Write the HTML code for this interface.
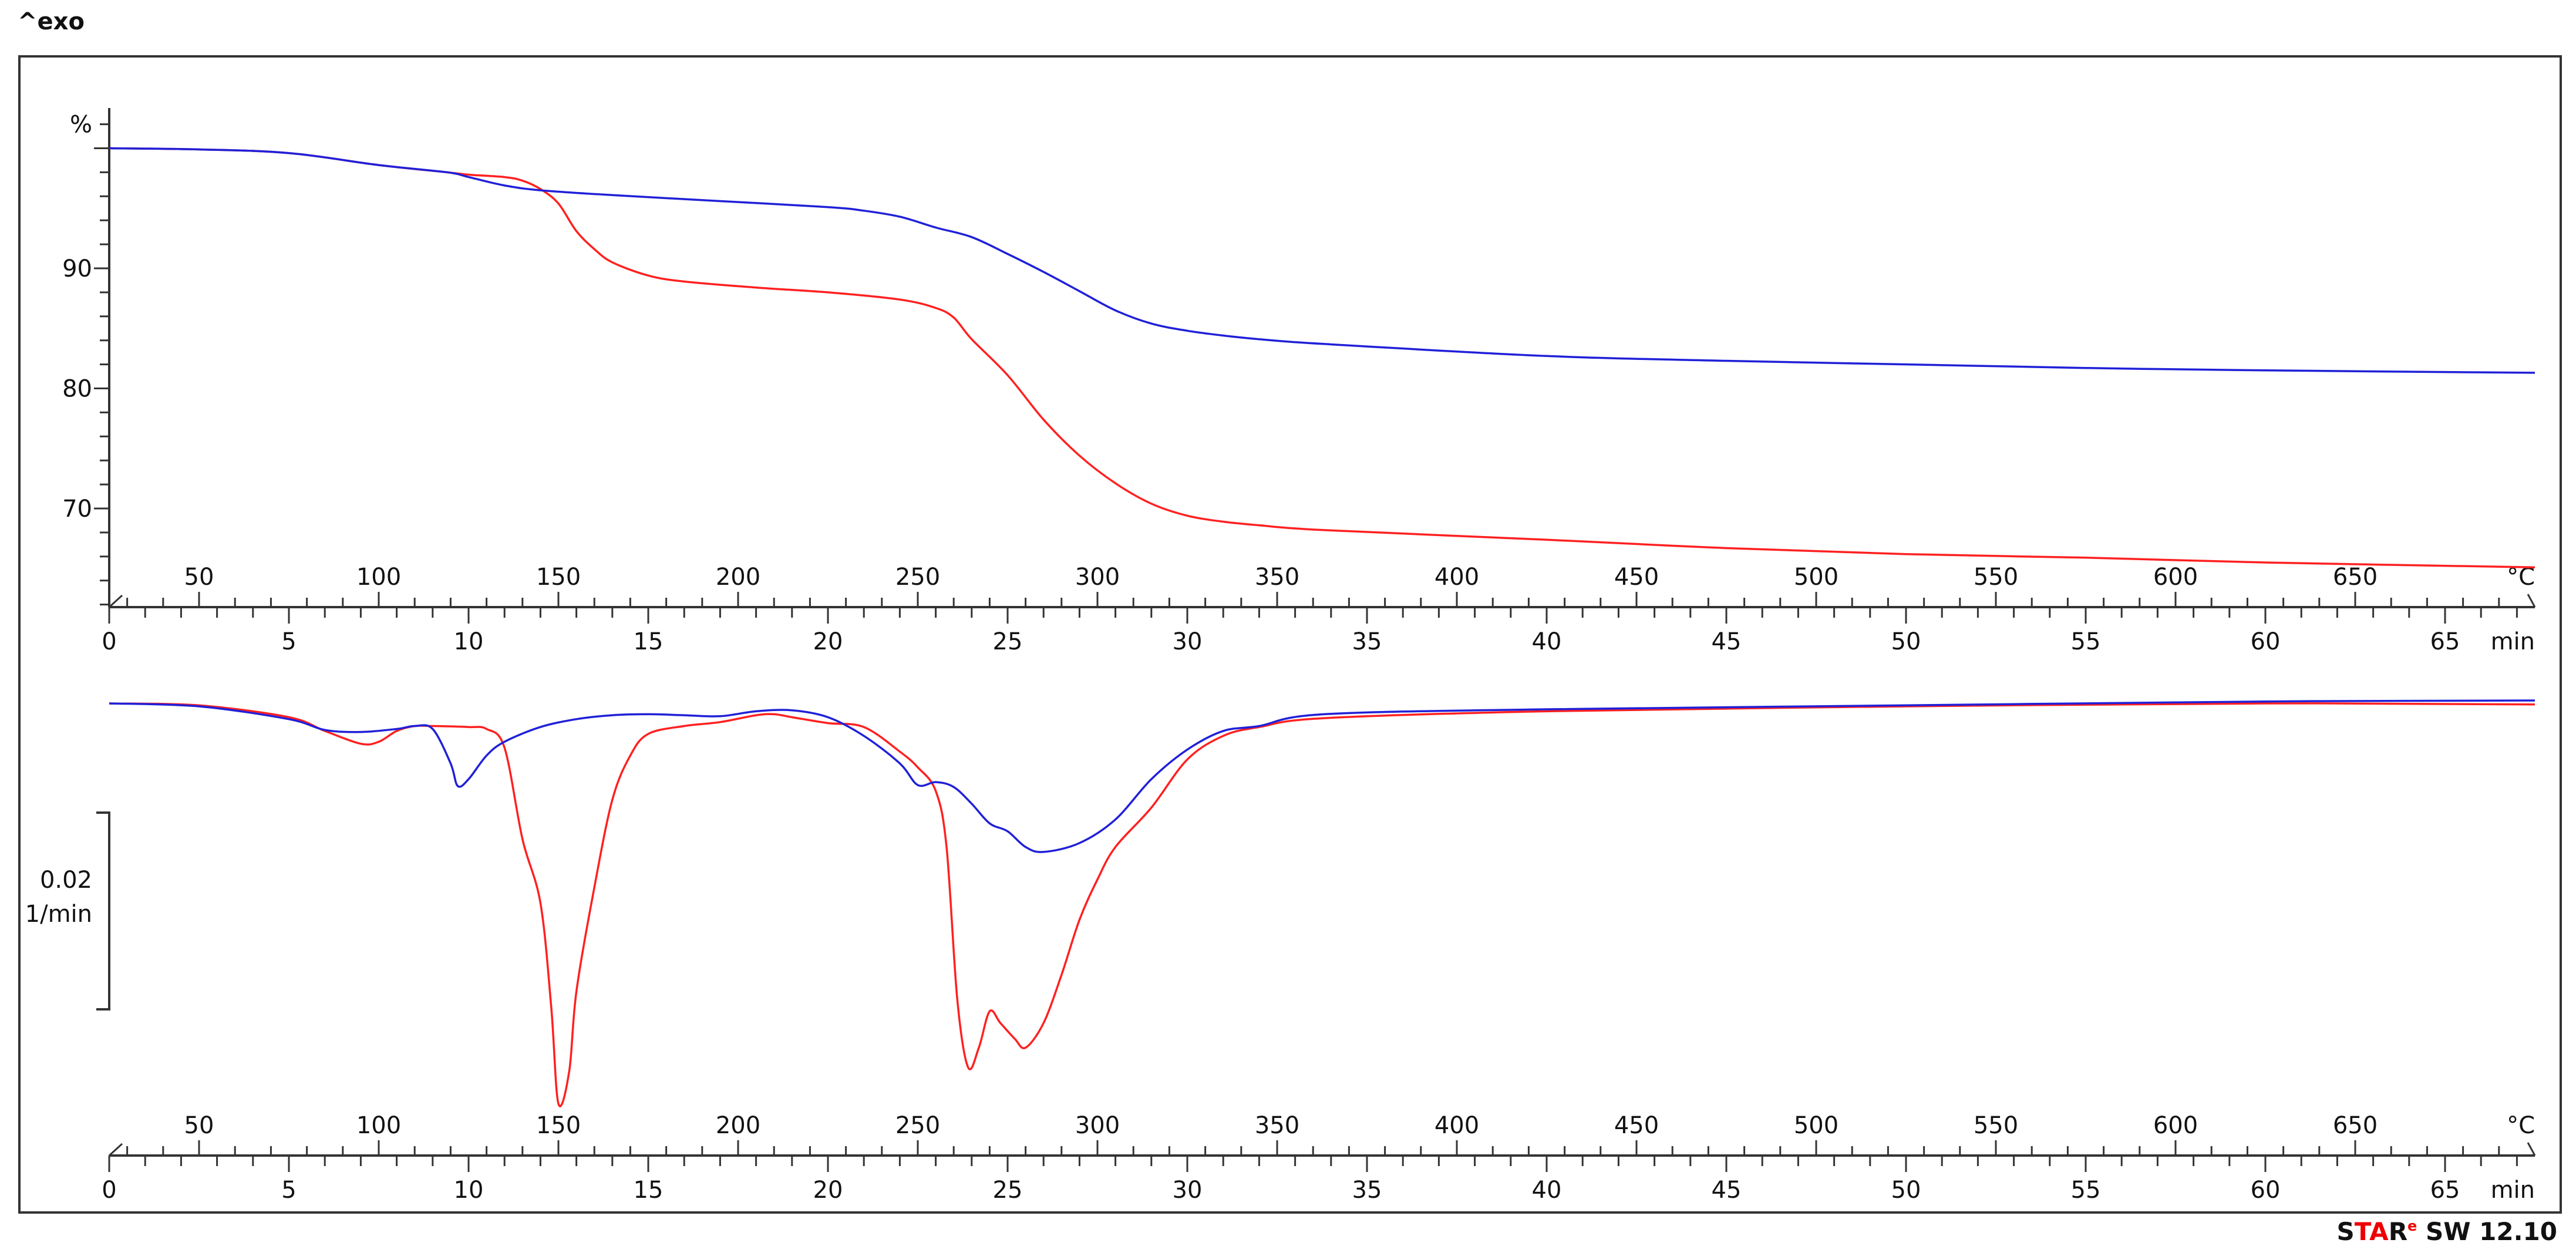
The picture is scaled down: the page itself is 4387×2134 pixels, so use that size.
<!DOCTYPE html>
<html><head><meta charset="utf-8"><style>
html,body{margin:0;padding:0;background:#fff}
svg{display:block}
text{font-family:"DejaVu Sans","Liberation Sans",sans-serif;fill:#111}
</style></head><body>
<svg id="chart" width="4387" height="2134" viewBox="0 0 4387 2134" xmlns="http://www.w3.org/2000/svg">
<rect x="0" y="0" width="4387" height="2134" fill="#fff"/>
<text x="30" y="50" font-size="40" font-weight="bold">^exo</text>
<rect x="33" y="96" width="4328" height="1969" fill="none" stroke="#333" stroke-width="4"/>
<text x="4355" y="2112" font-size="42" font-weight="bold" text-anchor="end"><tspan fill="#111">S</tspan><tspan fill="#e00">TA</tspan><tspan fill="#111">R</tspan><tspan fill="#e00" font-size="24" dy="-16">e</tspan><tspan fill="#111" dy="16"> SW 12.10</tspan></text>
<g id="axes"></g>
<g id="series"></g>
</svg>
<script>
// ---- data ----
const tgaBlueT = [0,2.5,5,7.5,9.4,10,11,12,14,17,20,21,22,23,24,25,26,27,28,29,30,31,32,33.8,40,45,50,55,60,67.5];
const tgaBlueV = [100,99.9,99.6,98.6,98.0,97.6,96.9,96.5,96.1,95.6,95.1,94.8,94.3,93.4,92.6,91.2,89.7,88.1,86.5,85.4,84.8,84.4,84.1,83.7,82.7,82.3,82.0,81.7,81.5,81.3];
const tgaRedT = [0,2.5,5,7.5,9.4,10,11,11.5,12,12.5,13,13.5,14,15,16,18,20,22,23,23.5,24,25,26,27,28,29,30,31,32,33.8,40,45,50,55,60,67.5];
const tgaRedV = [100,99.9,99.6,98.6,98.0,97.8,97.6,97.3,96.6,95.4,93.1,91.6,90.5,89.4,88.9,88.4,88.0,87.4,86.7,85.9,84.1,81.1,77.4,74.4,72.1,70.4,69.4,68.9,68.6,68.2,67.4,66.7,66.2,65.9,65.5,65.1];
// DTG in 0.001 1/min
const dtgBlueT = [0,2.5,5,6,7,8,8.5,9,9.5,9.7,10,10.5,11,12,13,14,15,16,17,18,19,20,21,22,22.5,23,23.5,24,24.5,25,25.5,26,27,28,29,30,31,32,33.8,40,50,60,67.5];
const dtgBlueV = [0,-0.3,-1.6,-2.7,-2.9,-2.6,-2.3,-2.6,-6.1,-8.4,-7.7,-5.3,-3.9,-2.4,-1.6,-1.2,-1.1,-1.2,-1.3,-0.8,-0.7,-1.4,-3.3,-6.1,-8.3,-8.0,-8.5,-10.2,-12.2,-13.0,-14.6,-15.1,-14.2,-11.8,-7.7,-4.7,-2.8,-2.3,-1.1,-0.6,-0.2,0.2,0.3];
const dtgRedT = [0,2.5,5,6,7,7.5,8,8.5,9,10,10.5,11,11.5,12,12.3,12.5,12.8,13,13.5,14,14.5,15,16,17,18,18.5,19,20,21,22,22.5,23,23.3,23.6,23.9,24.2,24.5,24.8,25.2,25.5,26,26.5,27,27.5,28,29,30,31,32,33.8,40,50,60,67.5];
const dtgRedV = [0,-0.2,-1.4,-2.8,-4.1,-3.9,-2.8,-2.3,-2.3,-2.4,-2.6,-4.5,-13.8,-20.3,-30.9,-40.7,-37.4,-29.3,-18.7,-9.8,-5.3,-3.1,-2.3,-1.9,-1.2,-1.1,-1.4,-2.0,-2.4,-4.9,-6.5,-8.9,-14.6,-30.1,-37.0,-35.0,-31.3,-32.5,-34.1,-35.0,-32.5,-27.6,-22.0,-17.9,-14.6,-10.6,-5.7,-3.3,-2.4,-1.5,-0.8,-0.3,0,-0.1];
const tempTicks = [50,100,150,200,250,300,350,400,450,500,550,600,650];
const minTicks = [0,5,10,15,20,25,30,35,40,45,50,55,60,65];
const pctTicks = [90,80,70];

// ---- scales ----
const X0=186, PXMIN=61.2, TEND=67.5;
const xT = t => X0 + t*PXMIN;
const xC = c => xT((c-25)/10);
const yP = v => 457 - (v-90)*20.45;
const yD = d => 1198 - d*16.75;
const NS="http://www.w3.org/2000/svg";
const axes=document.getElementById('axes'), series=document.getElementById('series');
function mk(tag,attrs,parent,text){const e=document.createElementNS(NS,tag);for(const k in attrs)e.setAttribute(k,attrs[k]);if(text!==undefined)e.textContent=text;parent.appendChild(e);return e;}
function line(x1,y1,x2,y2,w,parent){return mk('line',{x1,y1,x2,y2,stroke:'#333','stroke-width':w},parent);}
function smooth(pts){let d='M'+pts[0][0].toFixed(1)+','+pts[0][1].toFixed(1);
 for(let i=0;i<pts.length-1;i++){const p0=pts[Math.max(0,i-1)],p1=pts[i],p2=pts[i+1],p3=pts[Math.min(pts.length-1,i+2)];
 const c1x=p1[0]+(p2[0]-p0[0])/6,c1y=p1[1]+(p2[1]-p0[1])/6,c2x=p2[0]-(p3[0]-p1[0])/6,c2y=p2[1]-(p3[1]-p1[1])/6;
 d+=' C'+c1x.toFixed(1)+','+c1y.toFixed(1)+' '+c2x.toFixed(1)+','+c2y.toFixed(1)+' '+p2[0].toFixed(1)+','+p2[1].toFixed(1);}return d;}

// x axes
function xAxis(yAx,name){
 const g=mk('g',{},axes);
 
 
 line(X0,yAx,xT(TEND),yAx,4,g);
 line(X0,yAx,X0+22,yAx-20,3,g);
 line(xT(TEND),yAx,xT(TEND)-12,yAx-22,3,g);
 for(let c=30;c<=690;c+=10){const big=c%50===0;line(xC(c),yAx,xC(c),yAx-(big?26:16),3,g);}
 for(let m=0;m<=67;m++){const big=m%5===0;line(xT(m),yAx,xT(m),yAx+(big?28:18),3,g);}
 tempTicks.forEach(c=>{const t=mk('text',{x:xC(c),y:yAx-38,'font-size':40,'text-anchor':'middle'},g,String(c));
  
  });
 minTicks.forEach(m=>{const t=mk('text',{x:xT(m),y:yAx+72,'font-size':40,'text-anchor':'middle'},g,String(m));
  
  });
 const u1=mk('text',{x:xT(TEND),y:yAx-38,'font-size':40,'text-anchor':'end'},g,'°C');
 
 
 const u2=mk('text',{x:xT(TEND),y:yAx+72,'font-size':40,'text-anchor':'end'},g,'min');
 
 
}
xAxis(1034,'upper-x-axis');
xAxis(1968,'lower-x-axis');

// upper y axis
const gy=mk('g',{},axes);


line(X0,184,X0,1034,4,gy);
for(let v=102;v>=62;v-=2){const big=v%10===0;line(X0,yP(v),X0-(big?26:16),yP(v),3,gy);}
pctTicks.forEach(v=>{const t=mk('text',{x:157,y:yP(v)+14,'font-size':40,'text-anchor':'end'},gy,String(v));
 
 });
const pu=mk('text',{x:157,y:yP(102)+14,'font-size':40,'text-anchor':'end'},gy,'%');



// DTG scale bar
const gb=mk('g',{},axes);


mk('path',{d:`M${X0-22},1384 H${X0} V1719 H${X0-22}`,fill:'none',stroke:'#333','stroke-width':4},gb);
const sb1=mk('text',{x:157,y:1512,'font-size':40,'text-anchor':'end'},gb,'0.02');


const sb2=mk('text',{x:157,y:1570,'font-size':40,'text-anchor':'end'},gb,'1/min');



// series
function draw(T,V,yf,color,name){
 const pts=T.map((t,i)=>[xT(t),yf(V[i])]);
 const p=mk('path',{d:smooth(pts),fill:'none',stroke:color,'stroke-width':3.5},series);
 
 
}
draw(tgaRedT,tgaRedV,yP,'#ff2020','tga-red-curve');
draw(tgaBlueT,tgaBlueV,yP,'#2020d8','tga-blue-curve');
draw(dtgRedT,dtgRedV,yD,'#ff2020','dtg-red-curve');
draw(dtgBlueT,dtgBlueV,yD,'#2020d8','dtg-blue-curve');
</script>
</body></html>
